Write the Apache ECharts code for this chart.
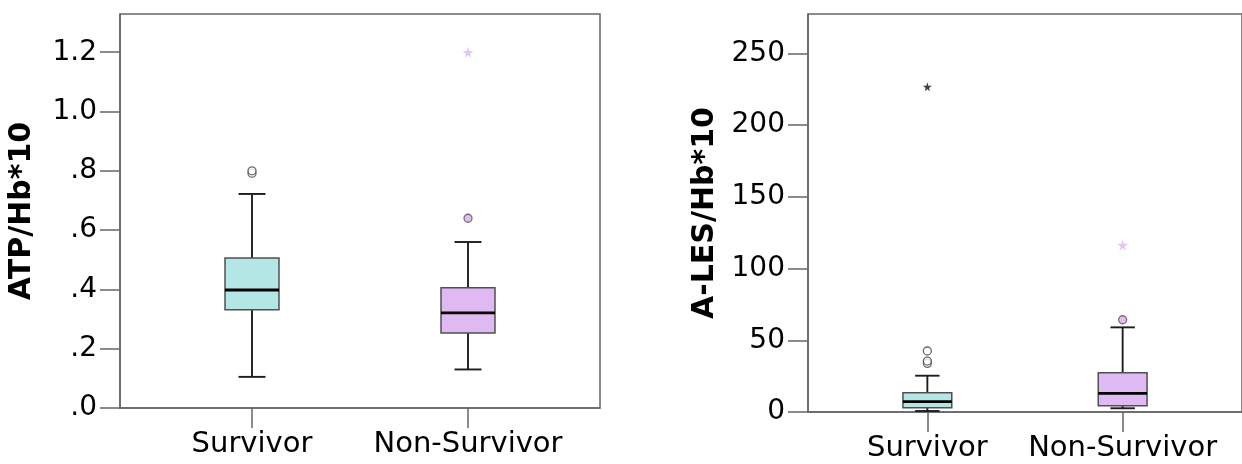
<!DOCTYPE html>
<html><head><meta charset="utf-8">
<script src="https://cdn.jsdelivr.net/npm/echarts@6/dist/echarts.min.js"></script>
<style>html,body{margin:0;padding:0;background:#fff}#c{width:1242px;height:464px}</style>
</head><body><div id="c"></div>
<script>
// ---- data ----
const categories = ['Survivor', 'Non-Survivor'];
const categoryPos = [1, 2];
// [x, lower whisker, Q1, median, Q3, upper whisker]
const atpBoxes = [
  [1, 0.105, 0.331, 0.398, 0.506, 0.722],
  [2, 0.130, 0.253, 0.321, 0.406, 0.560]
];
const atpOutliers = [[1, 0.792], [1, 0.800], [2, 0.640]];
const atpExtremes = [[2, 1.200]];
const alesBoxes = [
  [1, 0.7, 3.0, 7.2, 13.4, 25.3],
  [2, 2.6, 4.4, 13.0, 27.4, 59.0]
];
const alesOutliers = [[1, 33.9], [1, 35.5], [1, 42.5], [2, 64.3]];
const alesExtremes = [[1, 226.7], [2, 116.4]];
const atpTicks = [0, 0.2, 0.4, 0.6, 0.8, 1.0, 1.2];
const alesTicks = [0, 50, 100, 150, 200, 250];
const yNames = ['ATP/Hb*10', 'A-LES/Hb*10'];

// ---- style ----
const FILLS = ['#b4e6e6', '#dfb9f1'];
const AXIS = '#666666';
const FONT = 'DejaVu Sans';
const STAR = 'path://M50,0 L61,35 L98,35 L68,57 L79,91 L50,70 L21,91 L32,57 L2,35 L39,35 Z';
const CIRCLE_STYLE = [
  { color: '#ffffff', borderColor: '#444444', borderWidth: 1.3 },
  { color: '#d9adef', borderColor: '#555555', borderWidth: 1.3 }
];
const STAR_STYLE = [
  { size: 9, color: '#111111' },
  { size: 11, color: '#dcb6f5' }
];

function renderBox(params, api) {
  const x = api.value(0);
  const lo = api.coord([x, api.value(1)]);
  const q1 = api.coord([x, api.value(2)]);
  const md = api.coord([x, api.value(3)]);
  const q3 = api.coord([x, api.value(4)]);
  const hi = api.coord([x, api.value(5)]);
  const bw = api.size([0.25, 0])[0];
  const cw = bw / 2;
  const cx = lo[0];
  const fill = FILLS[params.dataIndex];
  const wStyle = { stroke: '#1e1e1e', lineWidth: 1.9 };
  return {
    type: 'group',
    children: [
      { type: 'line', shape: { x1: cx, y1: hi[1], x2: cx, y2: q3[1] }, style: wStyle },
      { type: 'line', shape: { x1: cx, y1: q1[1], x2: cx, y2: lo[1] }, style: wStyle },
      { type: 'line', shape: { x1: cx - cw / 2, y1: hi[1], x2: cx + cw / 2, y2: hi[1] }, style: wStyle },
      { type: 'line', shape: { x1: cx - cw / 2, y1: lo[1], x2: cx + cw / 2, y2: lo[1] }, style: wStyle },
      { type: 'rect', shape: { x: cx - bw / 2, y: q3[1], width: bw, height: q1[1] - q3[1] },
        style: { fill: fill, stroke: '#505050', lineWidth: 1.5 } },
      { type: 'line', shape: { x1: cx - bw / 2, y1: md[1], x2: cx + bw / 2, y2: md[1] },
        style: { stroke: '#000', lineWidth: 2.8 } }
    ]
  };
}

function xAxis(i) {
  return {
    type: 'value', gridIndex: i, min: 0.3889, max: 2.6111,
    axisLine: { show: true, onZero: false, lineStyle: { color: AXIS, width: 1.5 } },
    axisTick: { show: true, length: 20, customValues: categoryPos, lineStyle: { color: AXIS, width: 1.5 } },
    axisLabel: { customValues: categoryPos, margin: 22, color: '#000', fontFamily: FONT, fontSize: 29,
      formatter: v => categories[Math.round(v) - 1] },
    splitLine: { show: false }
  };
}
function yAxis(i, max, ticks, fmt, gap) {
  return {
    type: 'value', gridIndex: i, min: 0, max: max,
    name: yNames[i], nameLocation: 'middle', nameGap: gap,
    nameTextStyle: { fontFamily: FONT, fontWeight: 'bold', fontSize: 30, color: '#000' },
    axisLine: { show: true, lineStyle: { color: AXIS, width: 1.5 } },
    axisTick: { show: true, length: 20, customValues: ticks, lineStyle: { color: AXIS, width: 1.5 } },
    axisLabel: { customValues: ticks, margin: 23, color: '#000', fontFamily: FONT, fontSize: 28, formatter: fmt },
    splitLine: { show: false }
  };
}

function outlierSeries(i, data) {
  return {
    type: 'scatter', xAxisIndex: i, yAxisIndex: i, symbol: 'circle', symbolSize: 8, z: 5,
    data: data.map(d => ({ value: d, itemStyle: CIRCLE_STYLE[d[0] - 1] }))
  };
}
function extremeSeries(i, data) {
  return {
    type: 'scatter', xAxisIndex: i, yAxisIndex: i, symbol: STAR, z: 5,
    data: data.map(d => ({ value: d, symbolSize: STAR_STYLE[d[0] - 1].size,
      itemStyle: { color: STAR_STYLE[d[0] - 1].color } }))
  };
}

const chart = echarts.init(document.getElementById('c'));
chart.setOption({
  animation: false,
  backgroundColor: '#fff',
  grid: [
    { left: 120, top: 14, width: 480, height: 394, show: true, borderColor: AXIS, borderWidth: 1.5 },
    { left: 808, top: 14, width: 440, height: 398, show: true, borderColor: AXIS, borderWidth: 1.5 }
  ],
  xAxis: [xAxis(0), xAxis(1)],
  yAxis: [
    yAxis(0, 1.329, atpTicks, v => v.toFixed(1).replace(/^0/, ''), 83),
    yAxis(1, 277.4, alesTicks, v => String(v), 88)
  ],
  series: [
    { type: 'custom', xAxisIndex: 0, yAxisIndex: 0, data: atpBoxes, renderItem: renderBox,
      encode: { x: 0, y: [1, 2, 3, 4, 5] } },
    { type: 'custom', xAxisIndex: 1, yAxisIndex: 1, data: alesBoxes, renderItem: renderBox,
      encode: { x: 0, y: [1, 2, 3, 4, 5] } },
    outlierSeries(0, atpOutliers), extremeSeries(0, atpExtremes),
    outlierSeries(1, alesOutliers), extremeSeries(1, alesExtremes)
  ]
});
</script></body></html>
